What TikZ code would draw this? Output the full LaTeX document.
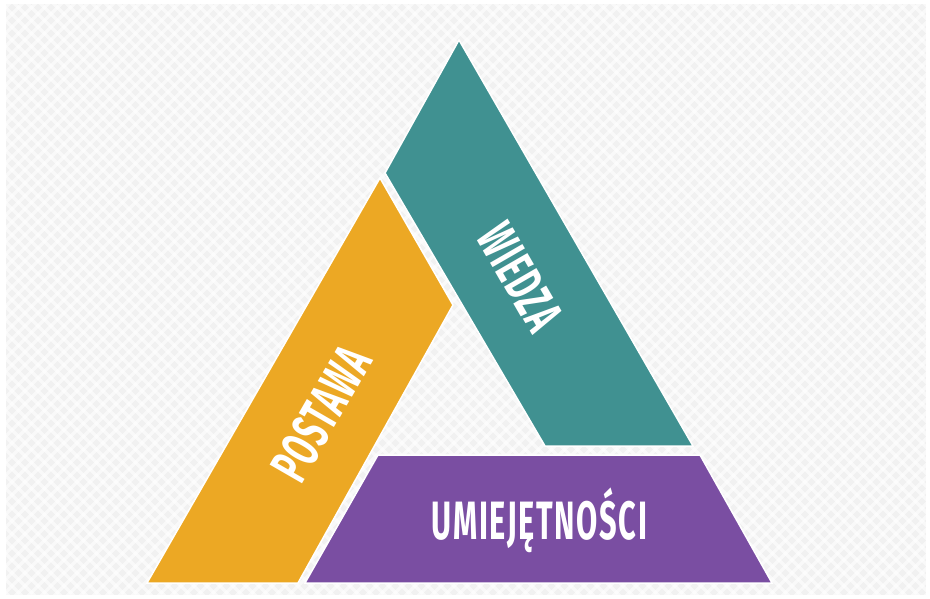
\documentclass[tikz,border=0pt]{standalone}
\usepackage{fontspec}
\newfontfamily\condfont[FakeStretch=0.57, LetterSpace=3]{Fira Sans}
\definecolor{tealc}{RGB}{64,145,145}
\definecolor{orangec}{RGB}{236,168,36}
\definecolor{purplec}{RGB}{122,78,162}
\definecolor{bgc}{RGB}{241,241,241}
\tikzset{
  band/.style={draw=white, line width=1.5pt, line join=miter},
  lbl/.style={text=white, font=\condfont\bfseries\fontsize{54}{54}\selectfont, inner sep=0pt, anchor=center}
}
\begin{document}
\begin{tikzpicture}[x=1pt,y=-1pt]
\useasboundingbox (0,0) rectangle (930,599);
\fill[white] (0,0) rectangle (930,599);
\begin{scope}
\clip (6,4) rectangle (926,595);
\fill[bgc] (6,4) rectangle (926,595);
\foreach \k in {-600,-587,...,940} {
  \draw[white, line width=3.5pt, opacity=0.6] (\k,0) -- ++(600,600);
  \draw[white, line width=3.5pt, opacity=0.6] (\k+600,0) -- ++(-600,600);
}
\end{scope}
% bands
\path[band, fill=tealc] (459,40) -- (693,446) -- (545,446) -- (385,173) -- cycle;
\path[band, fill=orangec] (380,178) -- (453,305) -- (298,583) -- (147,583) -- cycle;
\path[band, fill=purplec] (378,455) -- (700,455) -- (772,583) -- (305,583) -- cycle;
% labels
\node[lbl, rotate=-60] (wiedza) at (520,277) {WIEDZA};
\node[lbl, rotate=60] (postawa) at (321,414) {POSTAWA};
\node[lbl] (umiej) at (539.5,520) {\vphantom{A}UMIEJĘTNOŚCI};
\end{tikzpicture}
\end{document}
